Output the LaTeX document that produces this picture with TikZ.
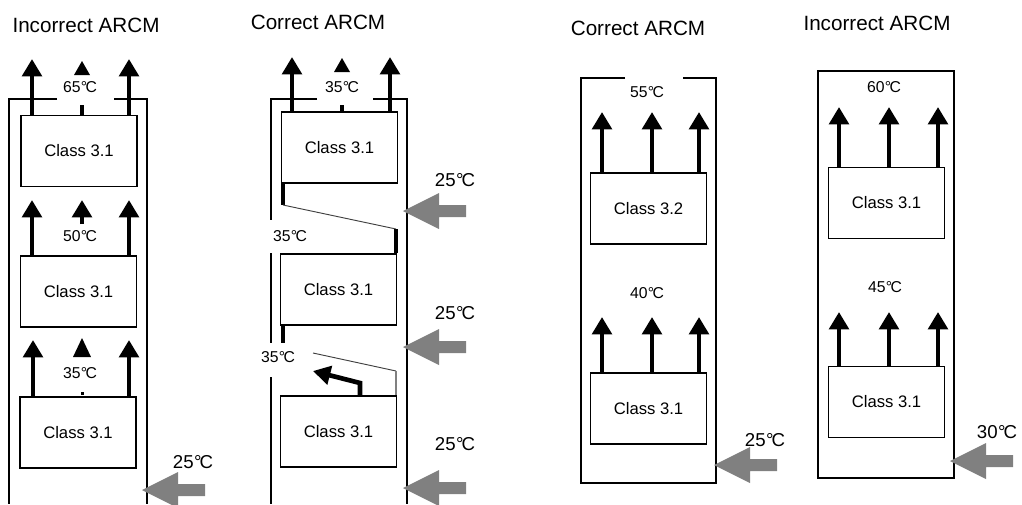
\documentclass[tikz,border=0pt]{standalone}
\usepackage{fontspec}
\setmainfont{Liberation Sans}
\usetikzlibrary{arrows.meta}
\newcommand\degC{\kern0.02em°\kern-0.1em C}
\tikzset{
  box/.style={draw, line width=1.1pt, minimum width=87pt, minimum height=53pt,
              inner sep=0pt, font=\fontsize{12.5}{14}\selectfont},
  title/.style={font=\fontsize{15.5}{17}\selectfont, inner sep=0pt},
  temp/.style={font=\fontsize{11.8}{13}\selectfont, inner sep=0pt},
  intemp/.style={font=\fontsize{14}{15}\selectfont, inner sep=0pt},
  wall/.style={line width=1.1pt},
  flow/.style={line width=3.5pt, -{Triangle[width=14.5pt,length=13pt]}},
  baffle/.style={line width=3pt},
  guide/.style={line width=0.7pt, black!75},
  inflow/.pic={\fill[gray] (0,0) -- (36,-18) -- (36,-6) -- (63,-6) -- (63,6)
                -- (36,6) -- (36,18) -- cycle;}
}
\begin{document}
\begin{tikzpicture}[x=0.75pt,y=-0.75pt]
\useasboundingbox (0,0) rectangle (1022,504);

% ---------- cabinet 1: stacked, no baffles ----------
\node[title] (h1) at (86,25) {Incorrect ARCM};
\draw[wall] (57,99) -- (9,99) -- (9,504);
\draw[wall] (114,99) -- (147,99) -- (147,504);
\node[box] (a1) at (79,151) {Class 3.1};
\node[box] (a2) at (78.5,291.5) {Class 3.1};
\node[box] (a3) at (78,432.5) {Class 3.1};
\draw[flow] (32,0 |- a1.north) -- (32,59);
\draw[flow] (129,0 |- a1.north) -- (129,59);
\draw[line width=3pt] (82,0 |- a1.north) -- (82,105);
\fill (82,61) -- (74,75) -- (90,75) -- cycle;
\node[temp] (ta1) at (80,87) {65\degC};
\draw[flow] (32,0 |- a2.north) -- (32,200);
\draw[flow] (129,0 |- a2.north) -- (129,200);
\draw[flow] (82,224) -- (82,200);
\node[temp] (ta2) at (80,236) {50\degC};
\draw[flow] (33,0 |- a3.north) -- (33,340);
\draw[flow] (129,0 |- a3.north) -- (129,340);
\fill (82,338) -- (73,357) -- (91,357) -- cycle;
\fill (80.5,391.5) rectangle (83.5,394.5);
\node[temp] (ta3) at (80,373) {35\degC};
\node[intemp] (ia1) at (193,462) {25\degC};
\pic at (142,490) {inflow};

% ---------- cabinet 2: stacked with baffles ----------
\node[title] (h2) at (318,22) {Correct ARCM};
\draw[wall] (317,99) -- (271,99) -- (271,220);
\draw[wall] (373,99) -- (407,99) -- (407,504);
\draw[wall] (271,253) -- (271,343);
\draw[wall] (271,377) -- (271,504);
\node[box] (b1) at (339.5,147.5) {Class 3.1};
\node[box] (b2) at (338.5,289.5) {Class 3.1};
\node[box] (b3) at (338.5,431.5) {Class 3.1};
\draw[flow] (292,0 |- b1.north) -- (292,57);
\draw[flow] (390,0 |- b1.north) -- (390,57);
\draw[line width=3pt] (342,0 |- b1.north) -- (342,105);
\fill (342,58) -- (334,72) -- (350,72) -- cycle;
\node[temp] (tb1) at (342,87) {35\degC};
\draw[baffle] (283,0 |- b1.south) -- (283,205);
\draw[guide] (283,205) -- (396,229);
\draw[baffle] (396,229) -- (396,0 |- b2.north);
\node[temp] (tb2) at (290,236) {35\degC};
\draw[baffle] (283,0 |- b2.south) -- (283,343);
\node[temp] (tb3) at (278,357) {35\degC};
\draw[guide] (313,353) -- (396,371);
\draw[line width=1pt, gray] (396,371) -- (396,0 |- b3.north);
\draw[line width=3.5pt, -{Triangle[width=14pt,length=13pt]}]
  (360,0 |- b3.north) -- (360,383) -- (313,371);
\node[intemp] (ib1) at (455,180) {25\degC};
\pic at (403,211) {inflow};
\node[intemp] (ib2) at (455,313) {25\degC};
\pic at (403,347) {inflow};
\node[intemp] (ib3) at (455,444) {25\degC};
\pic at (403,488) {inflow};

% ---------- cabinet 3: hotter class on top ----------
\node[title] (h3) at (638,28) {Correct ARCM};
\draw[wall] (625,78) -- (581,78) -- (581,483) -- (716,483) -- (716,78) -- (683,78);
\node[temp] (tc1) at (647,92) {55\degC};
\node[box] (c1) at (648.5,208.5) {Class 3.2};
\node[box] (c2) at (648.5,408.5) {Class 3.1};
\foreach \x in {602,652,699} {
  \draw[flow] (\x,0 |- c1.north) -- (\x,112);
  \draw[flow] (\x,0 |- c2.north) -- (\x,317);
}
\node[temp] (tc2) at (647,293) {40\degC};
\node[intemp] (ic1) at (765,440) {25\degC};
\pic at (714,465) {inflow};

% ---------- cabinet 4: same class stacked ----------
\node[title] (h4) at (877,23) {Incorrect ARCM};
\draw[wall] (818,71) rectangle (954,478);
\node[temp] (td1) at (884,87) {60\degC};
\node[box] (d1) at (886.5,203) {Class 3.1};
\node[box] (d2) at (886.5,402) {Class 3.1};
\foreach \x in {839,889,938} {
  \draw[flow] (\x,0 |- d1.north) -- (\x,107);
  \draw[flow] (\x,0 |- d2.north) -- (\x,312);
}
\node[temp] (td2) at (885,287) {45\degC};
\node[intemp] (id1) at (997,432) {30\degC};
\pic at (950,461) {inflow};
\end{tikzpicture}
\end{document}
